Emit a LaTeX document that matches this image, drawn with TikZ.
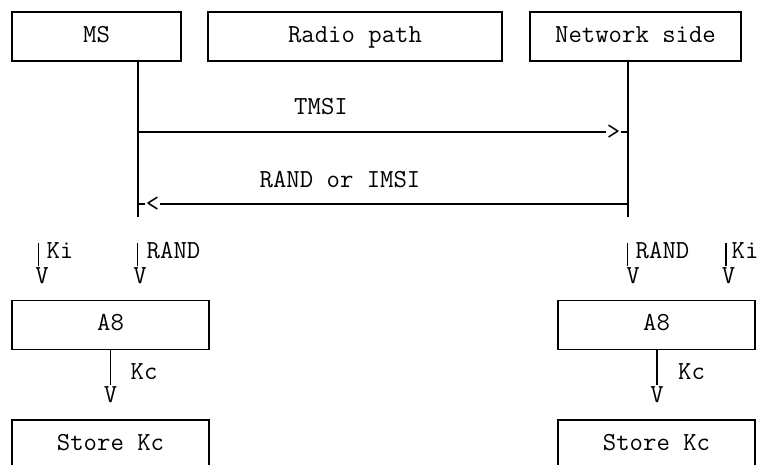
\documentclass[tikz,border=0pt]{standalone}
\usepackage{fontspec}
\begin{document}
\begin{tikzpicture}[x=1pt, y=-1pt, line width=1.1pt,
    every node/.style={font=\ttfamily\fontsize{26}{30}\selectfont},
    box/.style={draw, line width=1.1pt, minimum height=49, inner sep=0pt,
        text height=15pt, text depth=4pt},
    lbl/.style={inner sep=0pt},
    tip/.style={inner sep=0pt, outer sep=2pt}]
    \useasboundingbox (0,0) rectangle (761,464);
    \clip (0,0) rectangle (761,464);

    \node[box, minimum width=169] (ms) at (96.5,36.5) {MS};
    \node[box, minimum width=294] (radio) at (355,36.5) {Radio path};
    \node[box, minimum width=211] (net) at (635.5,36.5) {Network side};

    \coordinate (ms-end) at (138,217);
    \coordinate (net-end) at (628,217);
    \draw (ms.south -| ms-end) -- (ms-end);
    \draw (net.south -| net-end) -- (net-end);

    % TMSI
    \coordinate (tmsi-from) at (138,132);
    \coordinate (tmsi-to) at (628,132);
    \node[lbl] (tmsi-tip) at (613.5,132) {>};
    \node[lbl] (tmsi) at (321,107) {TMSI};
    \draw (tmsi-from) -- (tmsi-tip);
    \draw (tmsi-tip) -- (tmsi-to);

    % RAND or IMSI
    \coordinate (rand-from) at (628,204);
    \coordinate (rand-to) at (138,204);
    \node[lbl] (rand-tip) at (152.5,204) {<};
    \node[lbl] (rand) at (340,180) {RAND or IMSI};
    \draw (rand-from) -- (rand-tip);
    \draw (rand-tip) -- (rand-to);

    % inputs to A8
    \coordinate (ki-ms) at (38.5,243);
    \coordinate (rand-ms) at (137.5,243);
    \coordinate (rand-net) at (627.5,243);
    \coordinate (ki-net) at (726,243);
    \node[tip] (ki-ms-v) at (42,276) {V};
    \node[tip] (rand-ms-v) at (140,276) {V};
    \node[tip] (rand-net-v) at (633,276) {V};
    \node[tip] (ki-net-v) at (728.5,276) {V};
    \node[lbl] (ki-ms-l) at (60,251) {Ki};
    \node[lbl] (rand-ms-l) at (173.5,251) {RAND};
    \node[lbl] (rand-net-l) at (662.5,251) {RAND};
    \node[lbl] (ki-net-l) at (745,251) {Ki};
    \draw (ki-ms) -- (ki-ms |- ki-ms-v.north);
    \draw (rand-ms) -- (rand-ms |- rand-ms-v.north);
    \draw (rand-net) -- (rand-net |- rand-net-v.north);
    \draw (ki-net) -- (ki-net |- ki-net-v.north);

    % A8 and Kc
    \node[box, minimum width=197] (a8-ms) at (110.5,325) {A8};
    \node[box, minimum width=197] (a8-net) at (656.5,325) {A8};
    \node[tip] (kc-ms-v) at (110.5,395) {V};
    \node[tip] (kc-net-v) at (657,395) {V};
    \node[lbl] (kc-ms-l) at (144,372) {Kc};
    \node[lbl] (kc-net-l) at (691.5,372) {Kc};
    \draw (a8-ms.south -| kc-ms-v) -- (kc-ms-v);
    \draw (a8-net.south -| kc-net-v) -- (kc-net-v);

    \node[box, minimum width=197] (store-ms) at (110.5,444.5) {Store Kc};
    \node[box, minimum width=197] (store-net) at (656.5,444.5) {Store Kc};
\end{tikzpicture}
\end{document}
